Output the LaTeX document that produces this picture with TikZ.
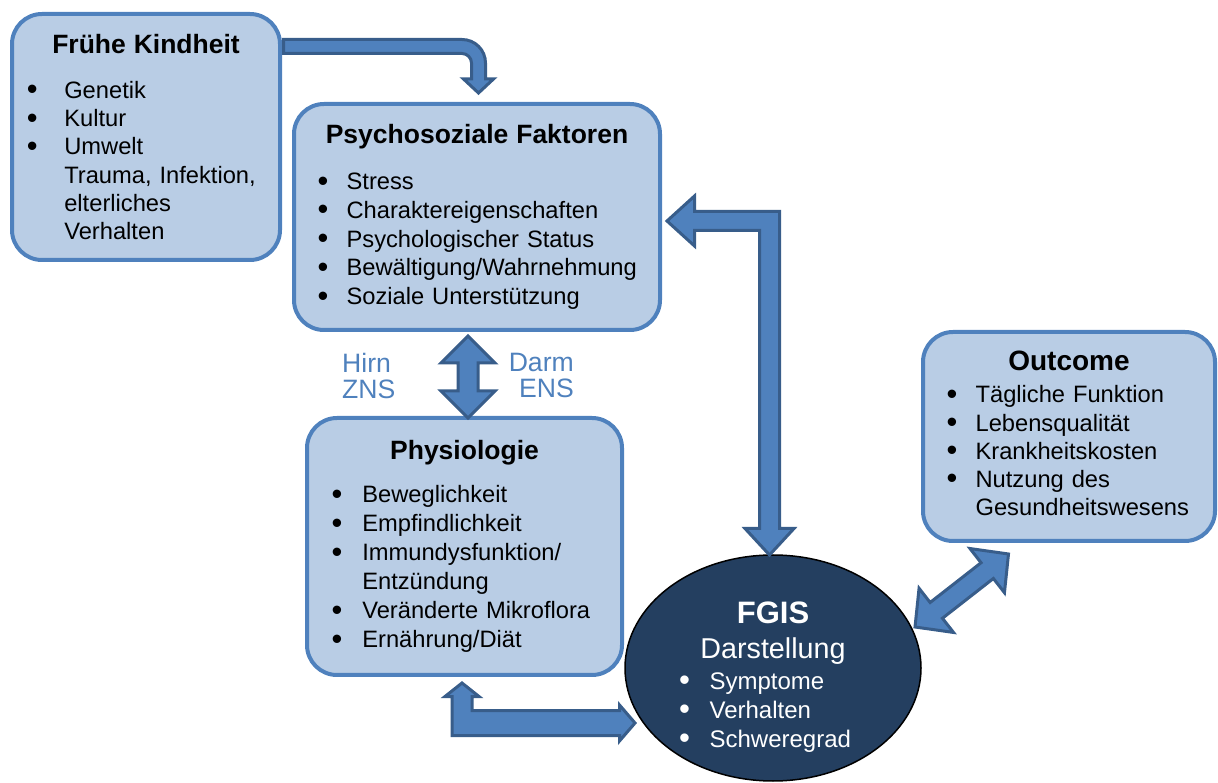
\documentclass[tikz,border=0pt]{standalone}
\usepackage{fontspec}
\setmainfont{Liberation Sans}
\usepackage{graphicx}
\usepackage{tikz}
\usetikzlibrary{calc,shapes.geometric}

\definecolor{boxfill}{HTML}{B9CDE5}
\definecolor{boxline}{HTML}{4F81BD}
\definecolor{arrowfill}{HTML}{4F81BD}
\definecolor{arrowline}{HTML}{385D8A}
\definecolor{fgisfill}{HTML}{243F60}

\newlength{\bulletgap}
\newcommand{\boxhead}[2][26.5]{\noindent\makebox[\hsize]{\fontsize{#1}{#1}\selectfont\bfseries #2}}
\newcommand{\li}[1]{\mbox{\makebox[\bulletgap][l]{\raisebox{-1.5pt}{\scalebox{1.3}{\textbullet}}}#1}}
\newcommand{\lc}[1]{\mbox{\hspace*{\bulletgap}#1}}

\begin{document}
\begin{tikzpicture}[
  x=1pt, y=1pt,
  box/.style={draw=boxline, fill=boxfill, line width=4pt, rounded corners=30pt,
              align=left, inner ysep=0pt, outer sep=0pt},
  blockarrow/.style={draw=arrowline, fill=arrowfill, line width=3pt, line join=miter},
  lbl/.style={text=arrowfill, inner sep=0pt, font=\fontsize{26.6}{26}\selectfont}
]
\useasboundingbox (0,0) rectangle (1218,782);

\node[box, text width=238pt, inner xsep=14pt, minimum width=268pt, minimum height=246pt,
      font=\fontsize{23.7}{28.2}\selectfont\setlength{\bulletgap}{37.3pt}]
  (kindheit) at (146,645)
  {\boxhead{Frühe Kindheit}\\[16.8pt]
   \li{Genetik}\\ \li{Kultur}\\ \li{Umwelt}\\
   \lc{Trauma, Infektion,}\\ \lc{elterliches}\\ \lc{Verhalten}};
\node[box, text width=318.8pt, inner xsep=23pt, minimum width=366pt, minimum height=226pt,
      font=\fontsize{23.7}{28.75}\selectfont\setlength{\bulletgap}{29pt}]
  (psy) at (477,565)
  {\boxhead{Psychosoziale Faktoren}\\[17.25pt]
   \li{Stress}\\ \li{Charaktereigenschaften}\\ \li{Psychologischer Status}\\
   \li{Bewältigung/Wahrnehmung}\\ \li{Soziale Unterstützung}};
\node[box, text width=265.8pt, inner xsep=24pt, minimum width=315pt, minimum height=257pt,
      font=\fontsize{23.7}{29}\selectfont\setlength{\bulletgap}{30.7pt}]
  (phys) at (464.5,235.5)
  {\boxhead{Physiologie}\\[14.4pt]
   \li{Beweglichkeit}\\ \li{Empfindlichkeit}\\ \li{Immundysfunktion/}\\
   \lc{Entzündung}\\ \li{Veränderte Mikroflora}\\ \li{Ernährung/Diät}};
\node[box, text width=244.8pt, inner xsep=23pt, minimum width=292pt, minimum height=209pt,
      font=\fontsize{23.7}{28.1}\selectfont\setlength{\bulletgap}{29pt}]
  (outcome) at (1069,345.5)
  {\boxhead[28]{Outcome}\\[4.6pt]
   \li{Tägliche Funktion}\\ \li{Lebensqualität}\\ \li{Krankheitskosten}\\
   \li{Nutzung des}\\ \lc{Gesundheitswesens}\rule[-7pt]{0pt}{0pt}};

\node[ellipse, draw=black, line width=1.5pt, fill=fgisfill, minimum width=296pt,
      minimum height=226pt, inner sep=0pt, outer sep=0pt] (fgis) at (773,114) {};
\node[text=white, align=left, text width=187.6pt, inner sep=0pt,
      font=\fontsize{24}{29}\selectfont\setlength{\bulletgap}{30.4pt}]
  (fgistext) at ($(fgis.center)+(0,-9)$)
  {\boxhead[31]{FGIS}\\[6pt]
   \makebox[\hsize]{\fontsize{28.7}{28.7}\selectfont Darstellung}\\[2pt]
   \li{Symptome}\\ \li{Verhalten}\\ \li{Schweregrad}};

\node[lbl, align=left, anchor=north west] (hirn) at (342,429) {Hirn\\ZNS};
\node[lbl, align=right, anchor=north east] (darm) at (574,429) {Darm\\ENS};

% arrow ends, taken from the boxes they join
\coordinate (k1) at ($(kindheit.north east)+(3.5,-32.5)$);
\coordinate (k2) at ($(psy.north)+(1.5,11)$);
\coordinate (p1) at ($(psy.south)+(-9,-6)$);
\coordinate (p2) at (p1 |- phys.north);
\coordinate (q1) at ($(psy.east)+(7,-4)$);
\coordinate (q2) at ($(fgis.north)+(-3.5,0)$);
\coordinate (u1) at ($(phys.south)+(-2.5,-8)$);
\coordinate (u2) at ($(fgis.west)+(10,-55)$);
\coordinate (v1) at ($(fgis.east)+(-6,41)$);
\coordinate (v2) at ($(outcome.south west)+(85.5,-13)$);
\coordinate (h1) at ($(v1)!27pt!(v2)$);
\coordinate (h2) at ($(v2)!27pt!(v1)$);

% early childhood feeds the psychosocial box, bent round the corner
\draw[blockarrow] ($(k1)+(0,7)$) -- ($(k2|-k1)+(-16.5,7)$)
  .. controls ($(k2|-k1)+(-3.5,7)$) and ($(k2|-k1)+(7,-3.5)$) .. ($(k2|-k1)+(7,-16.5)$)
  -- ($(k2)+(7,14)$) -- ($(k2)+(15,14)$) -- (k2) -- ($(k2)+(-15,14)$) -- ($(k2)+(-7,14)$)
  -- ($(k2|-k1)+(-7,-16.5)$)
  .. controls ($(k2|-k1)+(-7,-11.3)$) and ($(k2|-k1)+(-11.3,-7)$) .. ($(k2|-k1)+(-16.5,-7)$)
  -- ($(k1)+(0,-7)$) -- cycle;
% brain-gut axis
\draw[blockarrow] (p1) -- ($(p1)+(27,-27)$) -- ($(p1)+(10,-27)$) -- ($(p2)+(10,27)$)
  -- ($(p2)+(27,27)$) -- (p2) -- ($(p2)+(-27,27)$) -- ($(p2)+(-10,27)$)
  -- ($(p1)+(-10,-27)$) -- ($(p1)+(-27,-27)$) -- cycle;
\draw[blockarrow] (q1) -- ($(q1)+(27.5,25)$) -- ($(q1)+(27.5,9.5)$) -- ($(q2|-q1)+(10,9.5)$)
  -- ($(q2)+(10,26.5)$) -- ($(q2)+(24.5,26.5)$) -- (q2) -- ($(q2)+(-24.5,26.5)$)
  -- ($(q2)+(-10,26.5)$) -- ($(q2|-q1)+(-10,-9.5)$) -- ($(q1)+(27.5,-9.5)$)
  -- ($(q1)+(27.5,-25)$) -- cycle;
\draw[blockarrow] (u1) -- ($(u1)+(17,-13.5)$) -- ($(u1)+(10,-13.5)$) -- ($(u1|-u2)+(10,12.5)$)
  -- ($(u2)+(-15.5,12.5)$) -- ($(u2)+(-15.5,18)$) -- (u2) -- ($(u2)+(-15.5,-18)$)
  -- ($(u2)+(-15.5,-12.5)$) -- ($(u1|-u2)+(-10,-12.5)$) -- ($(u1)+(-10,-13.5)$)
  -- ($(u1)+(-17,-13.5)$) -- cycle;
\draw[blockarrow] (v1) -- ($(h1)!28pt!-90:(v2)$) -- ($(h1)!10pt!-90:(v2)$)
  -- ($(h2)!10pt!90:(v1)$) -- ($(h2)!28pt!90:(v1)$) -- (v2)
  -- ($(h2)!28pt!-90:(v1)$) -- ($(h2)!10pt!-90:(v1)$)
  -- ($(h1)!10pt!90:(v2)$) -- ($(h1)!28pt!90:(v2)$) -- cycle;
\end{tikzpicture}
\end{document}
